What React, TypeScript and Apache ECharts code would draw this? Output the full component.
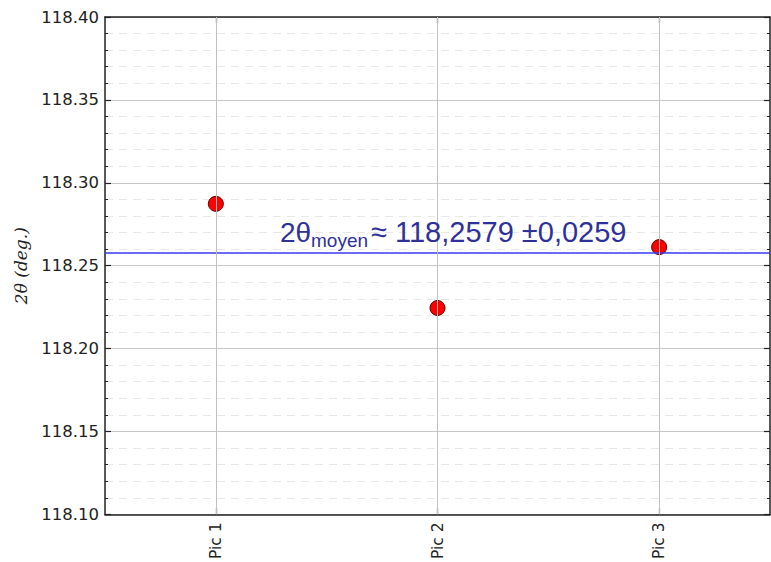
import React, { useEffect, useRef } from "react";
import * as echarts from "echarts";

const categories = ["Pic 1", "Pic 2", "Pic 3"];
const twoTheta = [118.2873, 118.2245, 118.2612];
const meanValue = 118.2579;
const yMin = 118.1;
const yMax = 118.4;
const yInterval = 0.05;
const annotationMain = "2θ";
const annotationSub = "moyen";
const annotationRest = "≈ 118,2579 ±0,0259";
const yAxisTitle = "2θ (deg.)";

export default function App() {
  const ref = useRef<HTMLDivElement>(null);
  useEffect(() => {
    document.body.style.margin = "0";
    const chart = echarts.init(ref.current!, null, { renderer: "svg" });
    const axisLineStyle = { color: "#222", width: 1.5 };
    const yCommon = {
      type: "value" as const,
      min: yMin,
      max: yMax,
      interval: yInterval,
      axisLine: { show: true, lineStyle: axisLineStyle },
      axisTick: { show: true, inside: true, length: 6, lineStyle: { color: "#222", width: 1.2 } },
      minorTick: { show: true, splitNumber: 5, length: 3, lineStyle: { color: "#222", width: 1 } },
    };
    chart.setOption({
      animation: false,
      backgroundColor: "#fff",
      grid: { left: 105, right: 1, top: 17, bottom: 45 },
      xAxis: [
        {
          type: "category",
          data: categories,
          boundaryGap: true,
          position: "bottom",
          axisLine: { show: true, lineStyle: axisLineStyle },
          axisTick: { show: true, inside: true, alignWithLabel: true, length: 6, lineStyle: { color: "#222", width: 1.2 } },
          axisLabel: {
            rotate: 90,
            margin: 8,
            color: "#222",
            fontFamily: "DejaVu Sans",
            fontSize: 15.5,
          },
          splitLine: { show: false },
        },
        {
          type: "category",
          data: categories,
          boundaryGap: true,
          position: "top",
          axisLine: { show: true, lineStyle: axisLineStyle },
          axisTick: { show: true, inside: true, alignWithLabel: true, length: 6, lineStyle: { color: "#222", width: 1.2 } },
          axisLabel: { show: false },
          splitLine: { show: false },
        },
      ],
      yAxis: [
        {
          ...yCommon,
          position: "left",
          name: yAxisTitle,
          nameLocation: "middle",
          nameGap: 76,
          nameTextStyle: {
            fontFamily: "DejaVu Serif",
            fontStyle: "italic",
            fontSize: 17,
            color: "#222",
          },
          axisLabel: {
            margin: 6,
            color: "#222",
            fontFamily: "DejaVu Sans",
            fontSize: 16.5,
            formatter: (v: number) => v.toFixed(2),
          },
          splitLine: { show: true, lineStyle: { color: "#c8c8c8", width: 1 } },
          minorSplitLine: { show: true, lineStyle: { color: "#e8e8e8", width: 1, type: [8, 6] } },
        },
        {
          ...yCommon,
          position: "right",
          axisLabel: { show: false },
          splitLine: { show: false },
          minorSplitLine: { show: false },
        },
      ],
      series: [
        {
          type: "line",
          data: [],
          xAxisIndex: 0,
          yAxisIndex: 0,
          z: 1,
          markLine: {
            silent: true,
            symbol: "none",
            precision: 4,
            label: { show: false },
            lineStyle: { color: "#3a3af5", width: 1.5, type: "solid" },
            data: [{ yAxis: meanValue }],
          },
        },
        {
          type: "scatter",
          data: twoTheta,
          xAxisIndex: 0,
          yAxisIndex: 0,
          symbol: "circle",
          symbolSize: 15,
          z: 2,
          itemStyle: { color: "#ff0000", borderColor: "#5a0000", borderWidth: 1, opacity: 1 },
        },
        {
          type: "line",
          data: [],
          xAxisIndex: 0,
          yAxisIndex: 0,
          z: 3,
          markLine: {
            silent: true,
            symbol: "none",
            label: { show: false },
            lineStyle: { color: "#c0c0c0", width: 1, type: "solid" },
            data: categories.map((c) => ({ xAxis: c })),
          },
        },
      ],
      graphic: [
        {
          type: "text",
          x: 280,
          y: 232,
          z: 10,
          style: {
            text: annotationMain,
            fontFamily: "Liberation Sans",
            fontSize: 28,
            fill: "#30309a",
            verticalAlign: "middle",
          },
        },
        {
          type: "text",
          x: 311,
          y: 240,
          z: 10,
          style: {
            text: annotationSub,
            fontFamily: "Liberation Sans",
            fontSize: 19,
            fill: "#30309a",
            verticalAlign: "middle",
          },
        },
        {
          type: "text",
          x: 371,
          y: 232,
          z: 10,
          style: {
            text: annotationRest,
            fontFamily: "Liberation Sans",
            fontSize: 29,
            fill: "#30309a",
            verticalAlign: "middle",
          },
        },
      ],
    });
    return () => chart.dispose();
  }, []);
  return <div ref={ref} style={{ width: 771, height: 562 }} />;
}
